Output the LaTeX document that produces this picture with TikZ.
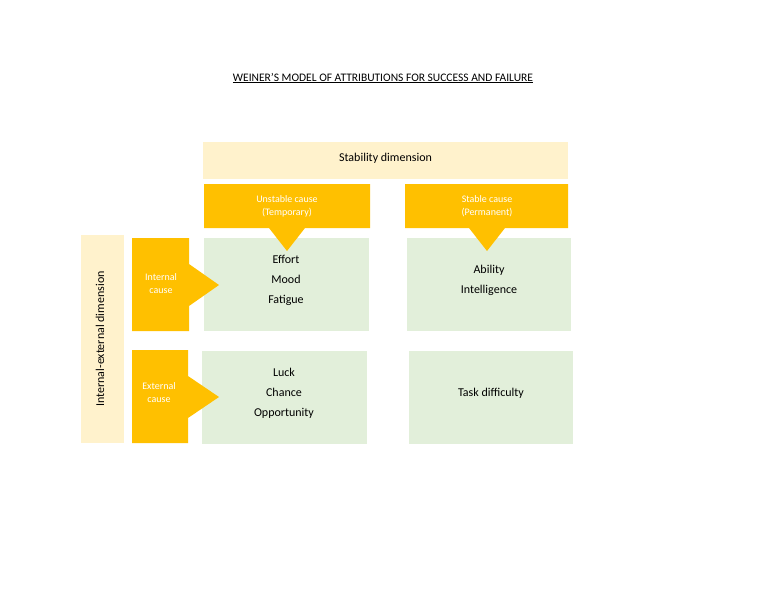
\documentclass[tikz,border=0pt]{standalone}
\usepackage{fontspec}
\setmainfont{Carlito}
\begin{document}
\begin{tikzpicture}[x=1pt,y=-1pt,
  ylw/.style={fill=ylight,draw=none},
  org/.style={fill=orng,draw=none},
  grn/.style={fill=gr,draw=none},
  wt/.style={text=white,font=\fontsize{10}{13}\selectfont,align=center},
  bt/.style={text=black,font=\fontsize{12}{20}\selectfont,align=center}]
\definecolor{ylight}{HTML}{FFF2CC}
\definecolor{orng}{HTML}{FFC000}
\definecolor{gr}{HTML}{E2EFDA}
\useasboundingbox (0,0) rectangle (768,594);
\node[font=\fontsize{11.5}{14}\selectfont] (title) at (383,78) {\underline{WEINER’S MODEL OF ATTRIBUTIONS FOR SUCCESS AND FAILURE}};
\fill[ylw] (203,142) rectangle (568,179);
\node[bt] (stab) at (385.5,158) {Stability dimension};
\fill[ylw] (81,235) rectangle (124,443);
\node[bt,rotate=90] (ie) at (100,339) {Internal-external dimension};
% green boxes
\fill[grn] (204,238) rectangle (369,331);
\fill[grn] (407,238) rectangle (571,331);
\fill[grn] (202,351) rectangle (367,444);
\fill[grn] (409,351) rectangle (573,444);
\node[bt] (g1) at (286,280) {Effort\\Mood\\Fatigue};
\node[bt] (g2) at (489,280) {Ability\\Intelligence};
\node[bt] (g3) at (284,393) {Luck\\Chance\\Opportunity};
\node[bt] (g4) at (491,393) {Task difficulty};
% top arrows
\fill[org] (204,184) -- (370,184) -- (370,228) -- (305,228) -- (287,251) -- (269,228) -- (204,228) -- cycle;
\fill[org] (405,184) -- (568,184) -- (568,228) -- (505,228) -- (487,251) -- (469,228) -- (405,228) -- cycle;
\node[wt] (u) at (287,206) {Unstable cause\\(Temporary)};
\node[wt] (s) at (487,206) {Stable cause\\(Permanent)};
% side arrows
\fill[org] (132,238) -- (189,238) -- (189,264) -- (219,285) -- (189,306) -- (189,331) -- (132,331) -- cycle;
\fill[org] (132,350) -- (188,350) -- (188,376) -- (219,397) -- (188,418) -- (188,443) -- (132,443) -- cycle;
\node[wt] (ic) at (161,284) {Internal\\cause};
\node[wt] (ec) at (159,393) {External\\cause};
\end{tikzpicture}
\end{document}
